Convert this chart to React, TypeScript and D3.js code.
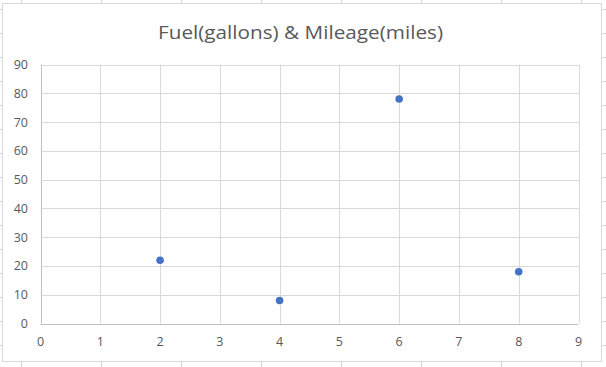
import React from "react";
import * as d3 from "d3";

const title = "Fuel(gallons) & Mileage(miles)";
const fuel = [2, 4, 6, 8];
const mileage = [22, 8, 78, 18];
const xTicks = [0, 1, 2, 3, 4, 5, 6, 7, 8, 9];
const yTicks = [0, 10, 20, 30, 40, 50, 60, 70, 80, 90];

const W = 606;
const H = 367;

export default function App() {
  const x = d3.scaleLinear().domain([0, 9]).range([40.5, 578.5]);
  const y = d3.scaleLinear().domain([0, 90]).range([323.5, 64.5]);

  const sheetCols = d3.range(21, 606, 80);
  const sheetRows = d3.range(9, 367, 24);

  return (
    <svg
      width={W}
      height={H}
      style={{ position: "fixed", left: 0, top: 0, background: "#fff" }}
      fontFamily="'Open Sans', sans-serif"
    >
      {sheetCols.map((c) => (
        <line key={"sc" + c} x1={c + 0.5} x2={c + 0.5} y1={0} y2={H} stroke="#d4d4d4" />
      ))}
      {sheetRows.map((r) => (
        <line key={"sr" + r} x1={0} x2={W} y1={r + 0.5} y2={r + 0.5} stroke="#d4d4d4" />
      ))}
      <rect x={2.5} y={3.5} width={599} height={358} fill="#fff" stroke="#d9d9d9" />
      <text
        x={300.5}
        y={39}
        textAnchor="middle"
        fontSize={18.5}
        fill="#595959"
        textLength={285}
        lengthAdjust="spacingAndGlyphs"
      >
        {title}
      </text>
      {xTicks.map((t) => (
        <line
          key={"gx" + t}
          x1={Math.round(x(t)) + 0.5}
          x2={Math.round(x(t)) + 0.5}
          y1={y(90)}
          y2={y(0)}
          stroke={t === 0 ? "#bfbfbf" : "#d9d9d9"}
        />
      ))}
      {yTicks.map((t) => (
        <line
          key={"gy" + t}
          x1={x(0)}
          x2={x(9)}
          y1={Math.round(y(t)) + 0.5}
          y2={Math.round(y(t)) + 0.5}
          stroke={t === 0 ? "#bfbfbf" : "#d9d9d9"}
        />
      ))}
      {yTicks.map((t) => (
        <text
          key={"ly" + t}
          x={28}
          y={y(t)}
          dy="0.36em"
          textAnchor="end"
          fontSize={12.5}
          fill="#595959"
        >
          {t}
        </text>
      ))}
      {xTicks.map((t) => (
        <text
          key={"lx" + t}
          x={x(t)}
          y={341}
          dy="0.36em"
          textAnchor="middle"
          fontSize={12.5}
          fill="#595959"
        >
          {t}
        </text>
      ))}
      {fuel.map((f, i) => (
        <circle key={"p" + i} cx={x(f)} cy={y(mileage[i])} r={3.8} fill="#4472c4" />
      ))}
    </svg>
  );
}
